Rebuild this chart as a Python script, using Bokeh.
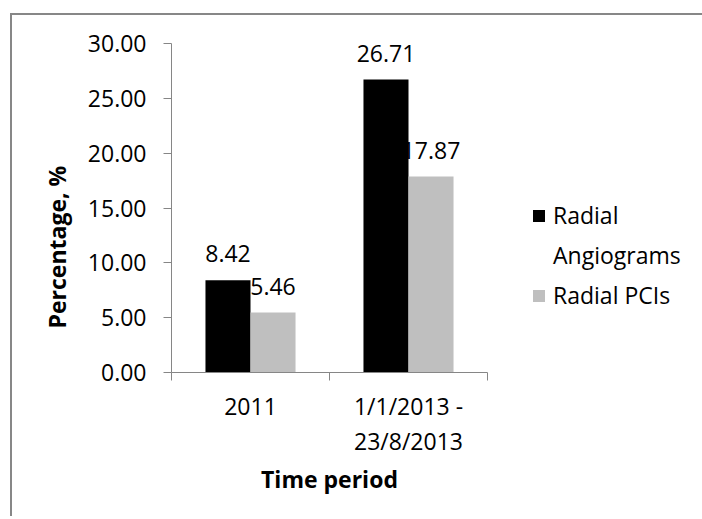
from bokeh.plotting import figure
from bokeh.models import (Range1d, FixedTicker, ColumnDataSource, LabelSet, Title,
                          Legend, LegendItem)
from bokeh.core.properties import value
from bokeh.embed import file_html
from bokeh.resources import INLINE

# ---- data ----
periods = ["2011", "1/1/2013 -\n23/8/2013"]
series_lines = ["Radial", "Angiograms", "Radial PCIs"]
angiograms = [8.42, 26.71]
pcis = [5.46, 17.87]
y_ticks = [0, 5, 10, 15, 20, 25, 30]
y_label = "Percentage, %"
x_label = "Time period"

FONT = "Open Sans"
FS = "23px"
AXIS_GRAY = "#868686"
BAR_GRAY = "#BFBFBF"

p = figure(frame_width=316, frame_height=329, output_backend="svg",
           toolbar_location=None,
           x_range=Range1d(0, len(periods)), y_range=Range1d(0, 30),
           min_border_left=159, min_border_right=215, min_border_top=28,
           min_border_bottom=146)
p.styles = {"box-shadow": "-2px -2px 0px 0px #878787",
            "margin-left": "12px", "margin-top": "15px"}
p.grid.visible = False
p.outline_line_color = None
p.background_fill_color = "white"
p.border_fill_color = "white"

centers = [i + 0.5 for i in range(len(periods))]
bw = 0.285
x_ang = [c - bw / 2 for c in centers]
x_pci = [c + bw / 2 for c in centers]

r1 = p.vbar(x=x_ang, top=angiograms, width=bw, fill_color="black", line_color=None)
r2 = p.vbar(x=x_pci, top=pcis, width=bw, fill_color=BAR_GRAY, line_color=None)
# empty, invisible renderer used only for the legend's wrapped second line
r_blank = p.vbar(x=[], top=[], width=bw, fill_alpha=0, line_alpha=0)

src = ColumnDataSource(dict(
    x=x_ang + x_pci,
    y=angiograms + pcis,
    t=[f"{v:.2f}" for v in angiograms + pcis],
))
p.add_layout(LabelSet(x="x", y="y", text="t", source=src, text_align="center",
                      text_baseline="alphabetic", y_offset=18,
                      text_font=value(FONT), text_font_size=value(FS),
                      text_color="black"))

ya = p.yaxis[0]
ya.ticker = FixedTicker(ticks=y_ticks, minor_ticks=[])
ya.major_label_overrides = {t: f"{t:.2f}" for t in y_ticks}
ya.axis_line_color = AXIS_GRAY
ya.major_tick_line_color = AXIS_GRAY
ya.major_tick_out = 8
ya.major_tick_in = 0
ya.minor_tick_line_color = None
ya.major_label_standoff = 17
ya.major_label_text_font = FONT
ya.major_label_text_font_size = FS
ya.major_label_text_color = "black"

xa = p.xaxis[0]
xa.ticker = FixedTicker(ticks=centers, minor_ticks=list(range(len(periods) + 1)))
xa.major_label_overrides = {c: lab for c, lab in zip(centers, periods)}
xa.axis_line_color = AXIS_GRAY
xa.major_tick_line_color = None
xa.minor_tick_line_color = AXIS_GRAY
xa.minor_tick_out = 8
xa.minor_tick_in = 0
xa.major_label_standoff = 9
xa.major_label_text_font = FONT
xa.major_label_text_font_size = FS
xa.major_label_text_color = "black"
xa.major_label_text_line_height = 1.1
xa.axis_label = x_label
xa.axis_label_text_font = FONT
xa.axis_label_text_font_size = FS
xa.axis_label_text_font_style = "bold"
xa.axis_label_text_color = "black"
xa.axis_label_standoff = 3

ytitle = Title(text=y_label, align="left", offset=44, standoff=23,
               text_font=FONT, text_font_size=FS, text_font_style="bold",
               text_color="black")
p.add_layout(ytitle, "left")

legend = Legend(items=[LegendItem(label=series_lines[0], renderers=[r1]),
                       LegendItem(label=series_lines[1], renderers=[r_blank]),
                       LegendItem(label=series_lines[2], renderers=[r2])],
                location=(44, 57), padding=0, margin=0, spacing=0,
                glyph_width=15, glyph_height=15, label_standoff=7, label_height=40,
                border_line_color=None, background_fill_alpha=0,
                label_text_font=FONT, label_text_font_size=FS,
                label_text_color="black", label_text_line_height=1.1)
p.add_layout(legend, "right")

open("out.html", "w").write(file_html(p, INLINE))
